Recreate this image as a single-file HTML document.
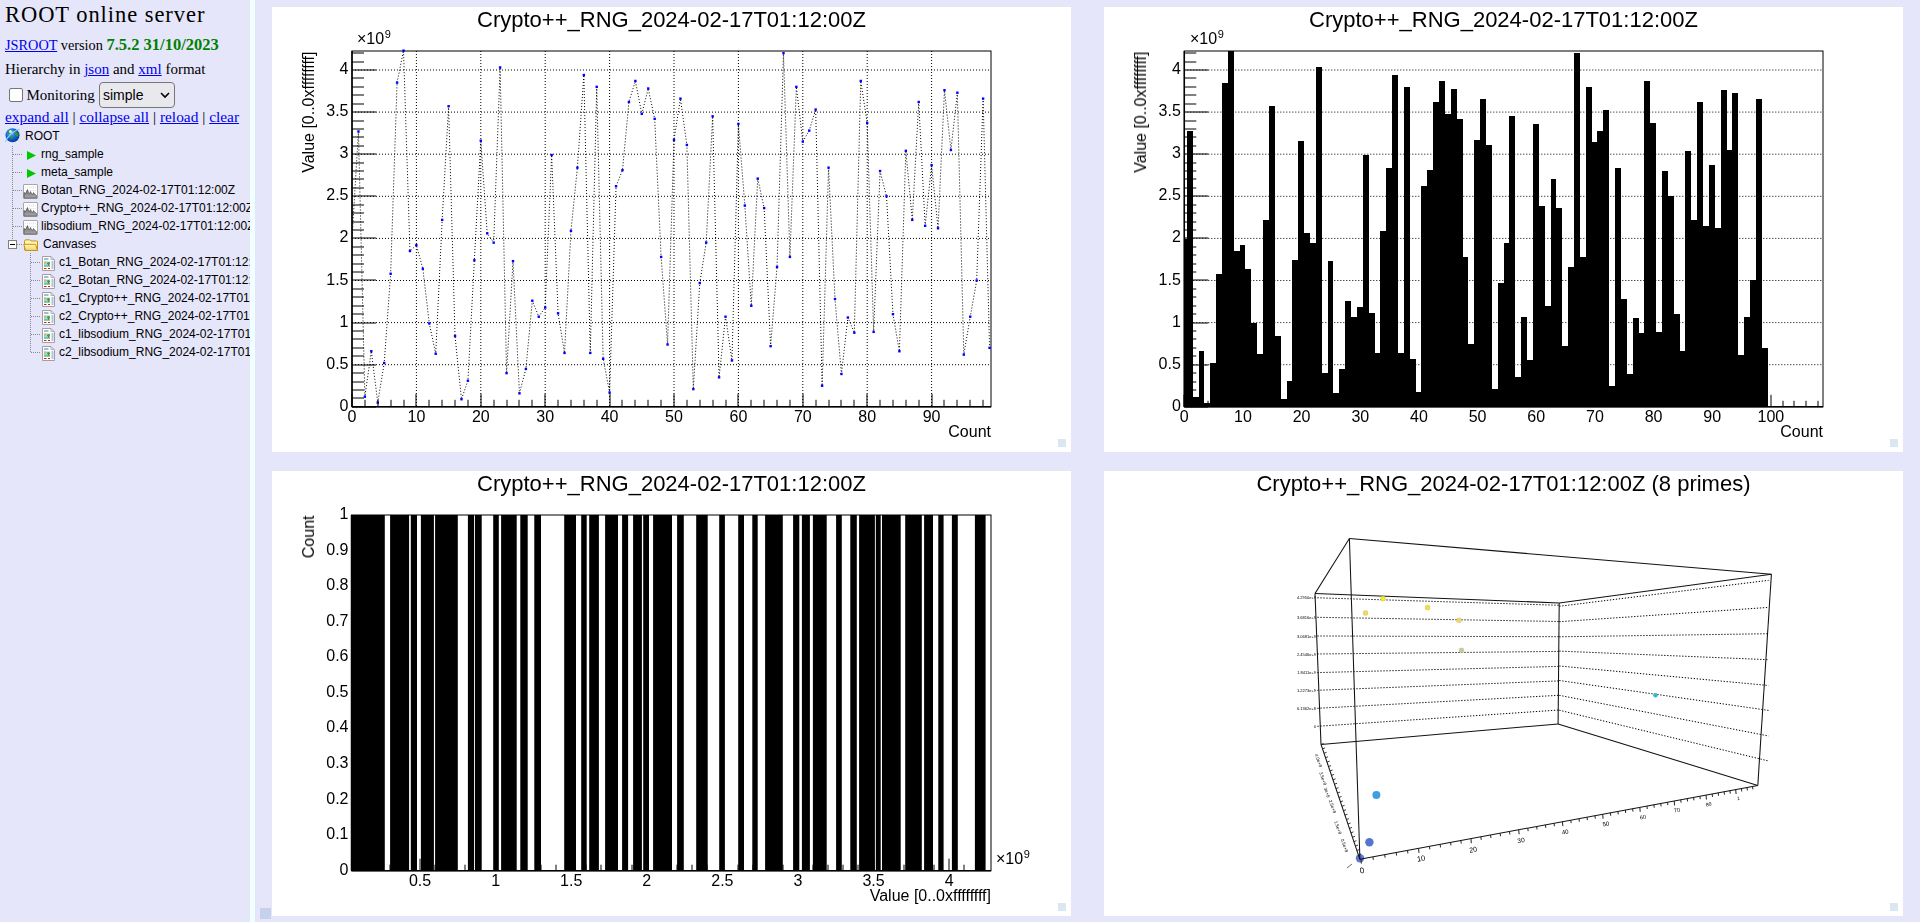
<!DOCTYPE html>
<html><head><meta charset="utf-8"><title>ROOT online server</title>
<style>
html,body{margin:0;padding:0;width:1920px;height:922px;overflow:hidden;background:#e6e6fa;}
#side{position:absolute;left:0;top:0;width:250px;height:922px;background:#e6e6fa;overflow:hidden;font-family:"Liberation Serif",serif;color:#000;}
#sep{position:absolute;left:250px;top:0;width:5px;height:922px;background:#f0ffff;}
#main{position:absolute;left:255px;top:0;width:1665px;height:922px;background:#e6e6fa;}
svg#cv{position:absolute;left:0;top:0;will-change:transform;}
svg#cv text{font-family:"Liberation Sans",sans-serif;fill:#000;}
.t{position:absolute;white-space:nowrap;}
a{color:#00e;text-decoration:underline;}
.tree{position:absolute;font-family:"Liberation Sans",sans-serif;font-size:12px;white-space:nowrap;}
</style></head><body>
<div id="side">
 <div class="t" style="left:5px;top:1.5px;font-size:22.5px;letter-spacing:0.95px;">ROOT online server</div>
 <div class="t" style="left:5px;top:34.5px;font-size:14.3px;"><a>JSROOT</a> version <b style="color:green;font-size:16.5px;">7.5.2 31/10/2023</b></div>
 <div class="t" style="left:5px;top:61px;font-size:15px;">Hierarchy in <a>json</a> and <a>xml</a> format</div>
 <div class="t" style="left:26.5px;top:87px;font-size:15px;">Monitoring</div>
 <div style="position:absolute;left:9px;top:88px;width:11.5px;height:11.5px;border:1.5px solid #767676;border-radius:2px;background:#fff;"></div>
 <div style="position:absolute;left:99px;top:82px;width:74px;height:23.5px;border:1px solid #767676;border-radius:4px;background:#e9e9ed;"></div>
 <div class="t" style="left:103px;top:86.5px;font-family:'Liberation Sans',sans-serif;font-size:14px;">simple</div>
 <svg style="position:absolute;left:158px;top:90px" width="14" height="10"><path d="M3 3 L7 7 L11 3" fill="none" stroke="#000" stroke-width="1.6"/></svg>
 <div class="t" style="left:5px;top:108px;font-size:15.4px;"><a>expand all</a> | <a>collapse all</a> | <a>reload</a> | <a>clear</a></div>
 <svg style="position:absolute;left:0;top:0" width="250" height="370">
<line x1="12.5" y1="146" x2="12.5" y2="240" stroke="#888" stroke-width="1" stroke-dasharray="1,1"/>
<line x1="13" y1="154.5" x2="23" y2="154.5" stroke="#888" stroke-width="1" stroke-dasharray="1,1"/>
<line x1="13" y1="172.5" x2="23" y2="172.5" stroke="#888" stroke-width="1" stroke-dasharray="1,1"/>
<line x1="13" y1="190.5" x2="23" y2="190.5" stroke="#888" stroke-width="1" stroke-dasharray="1,1"/>
<line x1="13" y1="208.5" x2="23" y2="208.5" stroke="#888" stroke-width="1" stroke-dasharray="1,1"/>
<line x1="13" y1="226.5" x2="23" y2="226.5" stroke="#888" stroke-width="1" stroke-dasharray="1,1"/>
<line x1="17" y1="244.5" x2="23" y2="244.5" stroke="#888" stroke-width="1" stroke-dasharray="1,1"/>
<line x1="30.5" y1="253" x2="30.5" y2="352" stroke="#888" stroke-width="1" stroke-dasharray="1,1"/>
<line x1="31" y1="262.5" x2="41" y2="262.5" stroke="#888" stroke-width="1" stroke-dasharray="1,1"/>
<line x1="31" y1="280.5" x2="41" y2="280.5" stroke="#888" stroke-width="1" stroke-dasharray="1,1"/>
<line x1="31" y1="298.5" x2="41" y2="298.5" stroke="#888" stroke-width="1" stroke-dasharray="1,1"/>
<line x1="31" y1="316.5" x2="41" y2="316.5" stroke="#888" stroke-width="1" stroke-dasharray="1,1"/>
<line x1="31" y1="334.5" x2="41" y2="334.5" stroke="#888" stroke-width="1" stroke-dasharray="1,1"/>
<line x1="31" y1="352.5" x2="41" y2="352.5" stroke="#888" stroke-width="1" stroke-dasharray="1,1"/>
<rect x="8.5" y="240.5" width="8" height="8" fill="#fff" stroke="#808080"/><path d="M10 244.5H15" stroke="#000" stroke-width="1"/>
</svg>
<svg style="position:absolute;left:4px;top:127px" width="17" height="17" viewBox="0 0 17 17">
<defs><radialGradient id="gg" cx="0.4" cy="0.35" r="0.75"><stop offset="0" stop-color="#5ab8ff"/><stop offset="0.55" stop-color="#1060d0"/><stop offset="1" stop-color="#0a2a78"/></radialGradient></defs>
<circle cx="8.5" cy="8.3" r="7" fill="url(#gg)"/>
<path d="M3.5 4.5 Q5.5 2.5 8 2.8 L7.5 5 Q6 6.5 4.5 6.5 Q3.5 6 3.5 4.5Z M10 3.5 Q13 4.5 14.5 7.5 L13.5 10 Q11.5 9 11 7 Q10 6 10 3.5Z M6.5 8 Q8.5 8 9 10 L8 12.5 Q6.5 11 6.5 8Z" fill="#2a9a30"/>
<circle cx="6.5" cy="4.5" r="1.6" fill="#fff" fill-opacity="0.8"/>
<path d="M1.5 15 Q3 10 9 5.5 Q13 2.5 16 2" fill="none" stroke="#8fd0ff" stroke-width="1.1"/></svg>
<div class="tree" style="left:25px;top:129px">ROOT</div>
<svg style="position:absolute;left:27px;top:151px" width="10" height="10"><path d="M0 0 L9 4.5 L0 9Z" fill="#00c800"/></svg>
<div class="tree" style="left:41px;top:147px">rng_sample</div>
<svg style="position:absolute;left:27px;top:169px" width="10" height="10"><path d="M0 0 L9 4.5 L0 9Z" fill="#00c800"/></svg>
<div class="tree" style="left:41px;top:165px">meta_sample</div>
<svg style="position:absolute;left:23px;top:184px" width="15" height="15" viewBox="0 0 15 15">
<defs><linearGradient id="hg" x1="0" y1="0" x2="0" y2="1"><stop offset="0" stop-color="#666"/><stop offset="1" stop-color="#aaa"/></linearGradient></defs>
<rect x="0.5" y="0.5" width="14" height="14" rx="0.5" fill="#fff" stroke="#a8a8a8"/>
<path d="M2 3.5H13M2 6.5H13M7 2V8M10 2V8" stroke="#dde" stroke-width="0.8" stroke-dasharray="1,1"/>
<path d="M1 14V8.5L2.5 9.5L3.5 7.5L4.5 5.5L5.5 8.5L6.5 9.5L7.5 7.5L8.5 9.5L9.5 10.5L10.5 8.5L11.5 10L12.5 10.5L13.5 11.5V14Z" fill="url(#hg)" stroke="#444" stroke-width="0.6"/></svg>
<div class="tree" style="left:41px;top:183px">Botan_RNG_2024-02-17T01:12:00Z</div>
<svg style="position:absolute;left:23px;top:202px" width="15" height="15" viewBox="0 0 15 15">
<defs><linearGradient id="hg" x1="0" y1="0" x2="0" y2="1"><stop offset="0" stop-color="#666"/><stop offset="1" stop-color="#aaa"/></linearGradient></defs>
<rect x="0.5" y="0.5" width="14" height="14" rx="0.5" fill="#fff" stroke="#a8a8a8"/>
<path d="M2 3.5H13M2 6.5H13M7 2V8M10 2V8" stroke="#dde" stroke-width="0.8" stroke-dasharray="1,1"/>
<path d="M1 14V8.5L2.5 9.5L3.5 7.5L4.5 5.5L5.5 8.5L6.5 9.5L7.5 7.5L8.5 9.5L9.5 10.5L10.5 8.5L11.5 10L12.5 10.5L13.5 11.5V14Z" fill="url(#hg)" stroke="#444" stroke-width="0.6"/></svg>
<div class="tree" style="left:41px;top:201px">Crypto++_RNG_2024-02-17T01:12:00Z</div>
<svg style="position:absolute;left:23px;top:220px" width="15" height="15" viewBox="0 0 15 15">
<defs><linearGradient id="hg" x1="0" y1="0" x2="0" y2="1"><stop offset="0" stop-color="#666"/><stop offset="1" stop-color="#aaa"/></linearGradient></defs>
<rect x="0.5" y="0.5" width="14" height="14" rx="0.5" fill="#fff" stroke="#a8a8a8"/>
<path d="M2 3.5H13M2 6.5H13M7 2V8M10 2V8" stroke="#dde" stroke-width="0.8" stroke-dasharray="1,1"/>
<path d="M1 14V8.5L2.5 9.5L3.5 7.5L4.5 5.5L5.5 8.5L6.5 9.5L7.5 7.5L8.5 9.5L9.5 10.5L10.5 8.5L11.5 10L12.5 10.5L13.5 11.5V14Z" fill="url(#hg)" stroke="#444" stroke-width="0.6"/></svg>
<div class="tree" style="left:41px;top:219px">libsodium_RNG_2024-02-17T01:12:00Z</div>
<svg style="position:absolute;left:23px;top:238.5px" width="16" height="13" viewBox="0 0 16 13">
<defs><linearGradient id="fg" x1="0" y1="0" x2="0" y2="1"><stop offset="0" stop-color="#fffac0"/><stop offset="1" stop-color="#f0d060"/></linearGradient></defs>
<path d="M1.5 10 V2.5 Q1.5 0.8 3 0.8 H6.5 Q7.5 0.8 8 2 H14 Q14.5 2 14.5 2.5 V11.5 H2Z" fill="#fff4b0" stroke="#c89018" stroke-width="1"/>
<path d="M0.8 5.3 H12.5 L14.5 11.5 H2.5Z" fill="url(#fg)" stroke="#c89018" stroke-width="1"/></svg>
<div class="tree" style="left:43px;top:237px">Canvases</div>
<svg style="position:absolute;left:42px;top:256px" width="13" height="15" viewBox="0 0 13 15">
<path d="M0.5 0.5 H9 L12.5 4 V14.5 H0.5Z" fill="#fff" stroke="#a0a0a0" stroke-width="1"/>
<path d="M9 0.5 V3.5 H12" fill="none" stroke="#a0a0a0" stroke-width="0.8"/>
<path d="M2 3H6.5" stroke="#4a78b0" stroke-width="1"/>
<rect x="2" y="5.5" width="6" height="5" fill="#8fd8f8"/><rect x="2" y="5.5" width="2" height="2" fill="#f8b020"/>
<circle cx="6.5" cy="7.3" r="1.4" fill="#50a030"/><rect x="6.2" y="8" width="0.7" height="2" fill="#805020"/><rect x="2" y="9.5" width="6" height="1" fill="#60b030"/>
<path d="M9.5 6H11.5M9.5 8H11.5M9.5 10H11.5M9.5 12H11.5" stroke="#4a78b0" stroke-width="0.9"/>
<path d="M2 12.5H4.5M6 12.5H8" stroke="#e01818" stroke-width="1.1"/></svg>
<div class="tree" style="left:59px;top:255px">c1_Botan_RNG_2024-02-17T01:12:00Z</div>
<svg style="position:absolute;left:42px;top:274px" width="13" height="15" viewBox="0 0 13 15">
<path d="M0.5 0.5 H9 L12.5 4 V14.5 H0.5Z" fill="#fff" stroke="#a0a0a0" stroke-width="1"/>
<path d="M9 0.5 V3.5 H12" fill="none" stroke="#a0a0a0" stroke-width="0.8"/>
<path d="M2 3H6.5" stroke="#4a78b0" stroke-width="1"/>
<rect x="2" y="5.5" width="6" height="5" fill="#8fd8f8"/><rect x="2" y="5.5" width="2" height="2" fill="#f8b020"/>
<circle cx="6.5" cy="7.3" r="1.4" fill="#50a030"/><rect x="6.2" y="8" width="0.7" height="2" fill="#805020"/><rect x="2" y="9.5" width="6" height="1" fill="#60b030"/>
<path d="M9.5 6H11.5M9.5 8H11.5M9.5 10H11.5M9.5 12H11.5" stroke="#4a78b0" stroke-width="0.9"/>
<path d="M2 12.5H4.5M6 12.5H8" stroke="#e01818" stroke-width="1.1"/></svg>
<div class="tree" style="left:59px;top:273px">c2_Botan_RNG_2024-02-17T01:12:00Z</div>
<svg style="position:absolute;left:42px;top:292px" width="13" height="15" viewBox="0 0 13 15">
<path d="M0.5 0.5 H9 L12.5 4 V14.5 H0.5Z" fill="#fff" stroke="#a0a0a0" stroke-width="1"/>
<path d="M9 0.5 V3.5 H12" fill="none" stroke="#a0a0a0" stroke-width="0.8"/>
<path d="M2 3H6.5" stroke="#4a78b0" stroke-width="1"/>
<rect x="2" y="5.5" width="6" height="5" fill="#8fd8f8"/><rect x="2" y="5.5" width="2" height="2" fill="#f8b020"/>
<circle cx="6.5" cy="7.3" r="1.4" fill="#50a030"/><rect x="6.2" y="8" width="0.7" height="2" fill="#805020"/><rect x="2" y="9.5" width="6" height="1" fill="#60b030"/>
<path d="M9.5 6H11.5M9.5 8H11.5M9.5 10H11.5M9.5 12H11.5" stroke="#4a78b0" stroke-width="0.9"/>
<path d="M2 12.5H4.5M6 12.5H8" stroke="#e01818" stroke-width="1.1"/></svg>
<div class="tree" style="left:59px;top:291px">c1_Crypto++_RNG_2024-02-17T01:12:00Z</div>
<svg style="position:absolute;left:42px;top:310px" width="13" height="15" viewBox="0 0 13 15">
<path d="M0.5 0.5 H9 L12.5 4 V14.5 H0.5Z" fill="#fff" stroke="#a0a0a0" stroke-width="1"/>
<path d="M9 0.5 V3.5 H12" fill="none" stroke="#a0a0a0" stroke-width="0.8"/>
<path d="M2 3H6.5" stroke="#4a78b0" stroke-width="1"/>
<rect x="2" y="5.5" width="6" height="5" fill="#8fd8f8"/><rect x="2" y="5.5" width="2" height="2" fill="#f8b020"/>
<circle cx="6.5" cy="7.3" r="1.4" fill="#50a030"/><rect x="6.2" y="8" width="0.7" height="2" fill="#805020"/><rect x="2" y="9.5" width="6" height="1" fill="#60b030"/>
<path d="M9.5 6H11.5M9.5 8H11.5M9.5 10H11.5M9.5 12H11.5" stroke="#4a78b0" stroke-width="0.9"/>
<path d="M2 12.5H4.5M6 12.5H8" stroke="#e01818" stroke-width="1.1"/></svg>
<div class="tree" style="left:59px;top:309px">c2_Crypto++_RNG_2024-02-17T01:12:00Z</div>
<svg style="position:absolute;left:42px;top:328px" width="13" height="15" viewBox="0 0 13 15">
<path d="M0.5 0.5 H9 L12.5 4 V14.5 H0.5Z" fill="#fff" stroke="#a0a0a0" stroke-width="1"/>
<path d="M9 0.5 V3.5 H12" fill="none" stroke="#a0a0a0" stroke-width="0.8"/>
<path d="M2 3H6.5" stroke="#4a78b0" stroke-width="1"/>
<rect x="2" y="5.5" width="6" height="5" fill="#8fd8f8"/><rect x="2" y="5.5" width="2" height="2" fill="#f8b020"/>
<circle cx="6.5" cy="7.3" r="1.4" fill="#50a030"/><rect x="6.2" y="8" width="0.7" height="2" fill="#805020"/><rect x="2" y="9.5" width="6" height="1" fill="#60b030"/>
<path d="M9.5 6H11.5M9.5 8H11.5M9.5 10H11.5M9.5 12H11.5" stroke="#4a78b0" stroke-width="0.9"/>
<path d="M2 12.5H4.5M6 12.5H8" stroke="#e01818" stroke-width="1.1"/></svg>
<div class="tree" style="left:59px;top:327px">c1_libsodium_RNG_2024-02-17T01:12:00Z</div>
<svg style="position:absolute;left:42px;top:346px" width="13" height="15" viewBox="0 0 13 15">
<path d="M0.5 0.5 H9 L12.5 4 V14.5 H0.5Z" fill="#fff" stroke="#a0a0a0" stroke-width="1"/>
<path d="M9 0.5 V3.5 H12" fill="none" stroke="#a0a0a0" stroke-width="0.8"/>
<path d="M2 3H6.5" stroke="#4a78b0" stroke-width="1"/>
<rect x="2" y="5.5" width="6" height="5" fill="#8fd8f8"/><rect x="2" y="5.5" width="2" height="2" fill="#f8b020"/>
<circle cx="6.5" cy="7.3" r="1.4" fill="#50a030"/><rect x="6.2" y="8" width="0.7" height="2" fill="#805020"/><rect x="2" y="9.5" width="6" height="1" fill="#60b030"/>
<path d="M9.5 6H11.5M9.5 8H11.5M9.5 10H11.5M9.5 12H11.5" stroke="#4a78b0" stroke-width="0.9"/>
<path d="M2 12.5H4.5M6 12.5H8" stroke="#e01818" stroke-width="1.1"/></svg>
<div class="tree" style="left:59px;top:345px">c2_libsodium_RNG_2024-02-17T01:12:00Z</div>
</div>
<div id="sep"></div>
<div id="main"></div>
<div style="position:absolute;left:260px;top:908px;width:11px;height:11px;background:steelblue;opacity:0.2"></div>
<svg id="cv" width="1920" height="922" viewBox="0 0 1920 922">
<rect x="272" y="7" width="799" height="445" fill="#fff"/>
<rect x="1058" y="439" width="8" height="8" fill="steelblue" fill-opacity="0.2"/>
<text x="671.5" y="27" font-size="22" text-anchor="middle" >Crypto++_RNG_2024-02-17T01:12:00Z</text>
<line x1="416.4" y1="51" x2="416.4" y2="406.8" stroke="#000" stroke-width="1" stroke="#000" stroke-width="1" stroke-dasharray="1,2"/>
<line x1="480.8" y1="51" x2="480.8" y2="406.8" stroke="#000" stroke-width="1" stroke="#000" stroke-width="1" stroke-dasharray="1,2"/>
<line x1="545.2" y1="51" x2="545.2" y2="406.8" stroke="#000" stroke-width="1" stroke="#000" stroke-width="1" stroke-dasharray="1,2"/>
<line x1="609.6" y1="51" x2="609.6" y2="406.8" stroke="#000" stroke-width="1" stroke="#000" stroke-width="1" stroke-dasharray="1,2"/>
<line x1="674" y1="51" x2="674" y2="406.8" stroke="#000" stroke-width="1" stroke="#000" stroke-width="1" stroke-dasharray="1,2"/>
<line x1="738.4" y1="51" x2="738.4" y2="406.8" stroke="#000" stroke-width="1" stroke="#000" stroke-width="1" stroke-dasharray="1,2"/>
<line x1="802.8" y1="51" x2="802.8" y2="406.8" stroke="#000" stroke-width="1" stroke="#000" stroke-width="1" stroke-dasharray="1,2"/>
<line x1="867.2" y1="51" x2="867.2" y2="406.8" stroke="#000" stroke-width="1" stroke="#000" stroke-width="1" stroke-dasharray="1,2"/>
<line x1="931.6" y1="51" x2="931.6" y2="406.8" stroke="#000" stroke-width="1" stroke="#000" stroke-width="1" stroke-dasharray="1,2"/>
<line x1="352" y1="364.7" x2="991" y2="364.7" stroke="#000" stroke-width="1" stroke="#000" stroke-width="1" stroke-dasharray="1,2"/>
<line x1="352" y1="322.6" x2="991" y2="322.6" stroke="#000" stroke-width="1" stroke="#000" stroke-width="1" stroke-dasharray="1,2"/>
<line x1="352" y1="280.5" x2="991" y2="280.5" stroke="#000" stroke-width="1" stroke="#000" stroke-width="1" stroke-dasharray="1,2"/>
<line x1="352" y1="238.4" x2="991" y2="238.4" stroke="#000" stroke-width="1" stroke="#000" stroke-width="1" stroke-dasharray="1,2"/>
<line x1="352" y1="196.3" x2="991" y2="196.3" stroke="#000" stroke-width="1" stroke="#000" stroke-width="1" stroke-dasharray="1,2"/>
<line x1="352" y1="154.2" x2="991" y2="154.2" stroke="#000" stroke-width="1" stroke="#000" stroke-width="1" stroke-dasharray="1,2"/>
<line x1="352" y1="112.1" x2="991" y2="112.1" stroke="#000" stroke-width="1" stroke="#000" stroke-width="1" stroke-dasharray="1,2"/>
<line x1="352" y1="70" x2="991" y2="70" stroke="#000" stroke-width="1" stroke="#000" stroke-width="1" stroke-dasharray="1,2"/>
<rect x="352" y="51" width="639" height="355.8" fill="none" stroke="#000" stroke-width="1"/>
<clipPath id="c1"><rect x="352" y="51" width="639" height="355.8"/></clipPath>
<polyline clip-path="url(#c1)" points="352,239.24 358.44,131.47 364.88,396.7 371.32,351.23 377.76,402.59 384.2,363.02 390.64,273.76 397.08,82.63 403.52,50.63 409.96,251.03 416.4,245.14 422.84,268.71 429.28,323.44 435.72,353.75 442.16,219.88 448.6,106.21 455.04,336.07 461.48,399.22 467.92,380.7 474.36,260.29 480.8,140.73 487.24,233.35 493.68,242.61 500.12,67.47 506.56,373.12 513,261.13 519.44,393.33 525.88,368.91 532.32,300.71 538.76,316.71 545.2,307.44 551.64,155.04 558.08,313.34 564.52,352.91 570.96,230.82 577.4,167.67 583.84,75.05 590.28,352.91 596.72,86.84 603.16,358.81 609.6,392.49 616.04,186.2 622.48,170.2 628.92,102 635.36,80.95 641.8,113.78 648.24,88.52 654.68,118.84 661.12,256.92 667.56,344.49 674,139.89 680.44,98.63 686.88,144.94 693.32,389.12 699.76,283.03 706.2,242.61 712.64,116.31 719.08,377.33 725.52,316.71 731.96,360.49 738.4,123.89 744.84,205.56 751.28,305.76 757.72,178.62 764.16,208.09 770.6,346.18 777.04,267.03 783.48,53.16 789.92,256.92 796.36,86.84 802.8,141.57 809.24,130.62 815.68,109.57 822.12,385.75 828.56,167.67 835,299.02 841.44,373.96 847.88,317.55 854.32,332.7 860.76,80.95 867.2,123.05 873.64,331.86 880.08,171.04 886.52,196.3 892.96,314.18 899.4,351.23 905.84,150.83 912.28,219.88 918.72,102 925.16,225.77 931.6,165.15 938.04,228.3 944.48,90.21 950.92,149.99 957.36,92.73 963.8,354.6 970.24,316.71 976.68,280.5 983.12,98.63 989.56,347.86" fill="none" stroke="#000" stroke-width="1" stroke-dasharray="1,2"/>
<rect x="357.24" y="130.27" width="2.4" height="2.4" fill="#00f"/>
<rect x="363.68" y="395.5" width="2.4" height="2.4" fill="#00f"/>
<rect x="370.12" y="350.03" width="2.4" height="2.4" fill="#00f"/>
<rect x="376.56" y="401.39" width="2.4" height="2.4" fill="#00f"/>
<rect x="383" y="361.82" width="2.4" height="2.4" fill="#00f"/>
<rect x="389.44" y="272.56" width="2.4" height="2.4" fill="#00f"/>
<rect x="395.88" y="81.43" width="2.4" height="2.4" fill="#00f"/>
<rect x="402.32" y="49.43" width="2.4" height="2.4" fill="#00f"/>
<rect x="408.76" y="249.83" width="2.4" height="2.4" fill="#00f"/>
<rect x="415.2" y="243.94" width="2.4" height="2.4" fill="#00f"/>
<rect x="421.64" y="267.51" width="2.4" height="2.4" fill="#00f"/>
<rect x="428.08" y="322.24" width="2.4" height="2.4" fill="#00f"/>
<rect x="434.52" y="352.55" width="2.4" height="2.4" fill="#00f"/>
<rect x="440.96" y="218.68" width="2.4" height="2.4" fill="#00f"/>
<rect x="447.4" y="105.01" width="2.4" height="2.4" fill="#00f"/>
<rect x="453.84" y="334.87" width="2.4" height="2.4" fill="#00f"/>
<rect x="460.28" y="398.02" width="2.4" height="2.4" fill="#00f"/>
<rect x="466.72" y="379.5" width="2.4" height="2.4" fill="#00f"/>
<rect x="473.16" y="259.09" width="2.4" height="2.4" fill="#00f"/>
<rect x="479.6" y="139.53" width="2.4" height="2.4" fill="#00f"/>
<rect x="486.04" y="232.15" width="2.4" height="2.4" fill="#00f"/>
<rect x="492.48" y="241.41" width="2.4" height="2.4" fill="#00f"/>
<rect x="498.92" y="66.27" width="2.4" height="2.4" fill="#00f"/>
<rect x="505.36" y="371.92" width="2.4" height="2.4" fill="#00f"/>
<rect x="511.8" y="259.93" width="2.4" height="2.4" fill="#00f"/>
<rect x="518.24" y="392.13" width="2.4" height="2.4" fill="#00f"/>
<rect x="524.68" y="367.71" width="2.4" height="2.4" fill="#00f"/>
<rect x="531.12" y="299.51" width="2.4" height="2.4" fill="#00f"/>
<rect x="537.56" y="315.51" width="2.4" height="2.4" fill="#00f"/>
<rect x="544" y="306.24" width="2.4" height="2.4" fill="#00f"/>
<rect x="550.44" y="153.84" width="2.4" height="2.4" fill="#00f"/>
<rect x="556.88" y="312.14" width="2.4" height="2.4" fill="#00f"/>
<rect x="563.32" y="351.71" width="2.4" height="2.4" fill="#00f"/>
<rect x="569.76" y="229.62" width="2.4" height="2.4" fill="#00f"/>
<rect x="576.2" y="166.47" width="2.4" height="2.4" fill="#00f"/>
<rect x="582.64" y="73.85" width="2.4" height="2.4" fill="#00f"/>
<rect x="589.08" y="351.71" width="2.4" height="2.4" fill="#00f"/>
<rect x="595.52" y="85.64" width="2.4" height="2.4" fill="#00f"/>
<rect x="601.96" y="357.61" width="2.4" height="2.4" fill="#00f"/>
<rect x="608.4" y="391.29" width="2.4" height="2.4" fill="#00f"/>
<rect x="614.84" y="185" width="2.4" height="2.4" fill="#00f"/>
<rect x="621.28" y="169" width="2.4" height="2.4" fill="#00f"/>
<rect x="627.72" y="100.8" width="2.4" height="2.4" fill="#00f"/>
<rect x="634.16" y="79.75" width="2.4" height="2.4" fill="#00f"/>
<rect x="640.6" y="112.58" width="2.4" height="2.4" fill="#00f"/>
<rect x="647.04" y="87.32" width="2.4" height="2.4" fill="#00f"/>
<rect x="653.48" y="117.64" width="2.4" height="2.4" fill="#00f"/>
<rect x="659.92" y="255.72" width="2.4" height="2.4" fill="#00f"/>
<rect x="666.36" y="343.29" width="2.4" height="2.4" fill="#00f"/>
<rect x="672.8" y="138.69" width="2.4" height="2.4" fill="#00f"/>
<rect x="679.24" y="97.43" width="2.4" height="2.4" fill="#00f"/>
<rect x="685.68" y="143.74" width="2.4" height="2.4" fill="#00f"/>
<rect x="692.12" y="387.92" width="2.4" height="2.4" fill="#00f"/>
<rect x="698.56" y="281.83" width="2.4" height="2.4" fill="#00f"/>
<rect x="705" y="241.41" width="2.4" height="2.4" fill="#00f"/>
<rect x="711.44" y="115.11" width="2.4" height="2.4" fill="#00f"/>
<rect x="717.88" y="376.13" width="2.4" height="2.4" fill="#00f"/>
<rect x="724.32" y="315.51" width="2.4" height="2.4" fill="#00f"/>
<rect x="730.76" y="359.29" width="2.4" height="2.4" fill="#00f"/>
<rect x="737.2" y="122.69" width="2.4" height="2.4" fill="#00f"/>
<rect x="743.64" y="204.36" width="2.4" height="2.4" fill="#00f"/>
<rect x="750.08" y="304.56" width="2.4" height="2.4" fill="#00f"/>
<rect x="756.52" y="177.42" width="2.4" height="2.4" fill="#00f"/>
<rect x="762.96" y="206.89" width="2.4" height="2.4" fill="#00f"/>
<rect x="769.4" y="344.98" width="2.4" height="2.4" fill="#00f"/>
<rect x="775.84" y="265.83" width="2.4" height="2.4" fill="#00f"/>
<rect x="782.28" y="51.96" width="2.4" height="2.4" fill="#00f"/>
<rect x="788.72" y="255.72" width="2.4" height="2.4" fill="#00f"/>
<rect x="795.16" y="85.64" width="2.4" height="2.4" fill="#00f"/>
<rect x="801.6" y="140.37" width="2.4" height="2.4" fill="#00f"/>
<rect x="808.04" y="129.42" width="2.4" height="2.4" fill="#00f"/>
<rect x="814.48" y="108.37" width="2.4" height="2.4" fill="#00f"/>
<rect x="820.92" y="384.55" width="2.4" height="2.4" fill="#00f"/>
<rect x="827.36" y="166.47" width="2.4" height="2.4" fill="#00f"/>
<rect x="833.8" y="297.82" width="2.4" height="2.4" fill="#00f"/>
<rect x="840.24" y="372.76" width="2.4" height="2.4" fill="#00f"/>
<rect x="846.68" y="316.35" width="2.4" height="2.4" fill="#00f"/>
<rect x="853.12" y="331.5" width="2.4" height="2.4" fill="#00f"/>
<rect x="859.56" y="79.75" width="2.4" height="2.4" fill="#00f"/>
<rect x="866" y="121.85" width="2.4" height="2.4" fill="#00f"/>
<rect x="872.44" y="330.66" width="2.4" height="2.4" fill="#00f"/>
<rect x="878.88" y="169.84" width="2.4" height="2.4" fill="#00f"/>
<rect x="885.32" y="195.1" width="2.4" height="2.4" fill="#00f"/>
<rect x="891.76" y="312.98" width="2.4" height="2.4" fill="#00f"/>
<rect x="898.2" y="350.03" width="2.4" height="2.4" fill="#00f"/>
<rect x="904.64" y="149.63" width="2.4" height="2.4" fill="#00f"/>
<rect x="911.08" y="218.68" width="2.4" height="2.4" fill="#00f"/>
<rect x="917.52" y="100.8" width="2.4" height="2.4" fill="#00f"/>
<rect x="923.96" y="224.57" width="2.4" height="2.4" fill="#00f"/>
<rect x="930.4" y="163.95" width="2.4" height="2.4" fill="#00f"/>
<rect x="936.84" y="227.1" width="2.4" height="2.4" fill="#00f"/>
<rect x="943.28" y="89.01" width="2.4" height="2.4" fill="#00f"/>
<rect x="949.72" y="148.79" width="2.4" height="2.4" fill="#00f"/>
<rect x="956.16" y="91.53" width="2.4" height="2.4" fill="#00f"/>
<rect x="962.6" y="353.4" width="2.4" height="2.4" fill="#00f"/>
<rect x="969.04" y="315.51" width="2.4" height="2.4" fill="#00f"/>
<rect x="975.48" y="279.3" width="2.4" height="2.4" fill="#00f"/>
<rect x="981.92" y="97.43" width="2.4" height="2.4" fill="#00f"/>
<rect x="988.36" y="346.66" width="2.4" height="2.4" fill="#00f"/>
<line x1="352" y1="51" x2="352" y2="406.8" stroke="#000" stroke-width="1.5" />
<line x1="352" y1="407" x2="376" y2="407" stroke="#000" stroke-width="1" />
<text x="348.5" y="410.8" font-size="16" text-anchor="end" >0</text>
<line x1="352" y1="398" x2="364" y2="398" stroke="#000" stroke-width="1" />
<line x1="352" y1="390" x2="364" y2="390" stroke="#000" stroke-width="1" />
<line x1="352" y1="382" x2="364" y2="382" stroke="#000" stroke-width="1" />
<line x1="352" y1="373" x2="364" y2="373" stroke="#000" stroke-width="1" />
<line x1="352" y1="365" x2="376" y2="365" stroke="#000" stroke-width="1" />
<text x="348.5" y="368.7" font-size="16" text-anchor="end" >0.5</text>
<line x1="352" y1="356" x2="364" y2="356" stroke="#000" stroke-width="1" />
<line x1="352" y1="348" x2="364" y2="348" stroke="#000" stroke-width="1" />
<line x1="352" y1="339" x2="364" y2="339" stroke="#000" stroke-width="1" />
<line x1="352" y1="331" x2="364" y2="331" stroke="#000" stroke-width="1" />
<line x1="352" y1="323" x2="376" y2="323" stroke="#000" stroke-width="1" />
<text x="348.5" y="326.6" font-size="16" text-anchor="end" >1</text>
<line x1="352" y1="314" x2="364" y2="314" stroke="#000" stroke-width="1" />
<line x1="352" y1="306" x2="364" y2="306" stroke="#000" stroke-width="1" />
<line x1="352" y1="297" x2="364" y2="297" stroke="#000" stroke-width="1" />
<line x1="352" y1="289" x2="364" y2="289" stroke="#000" stroke-width="1" />
<line x1="352" y1="280" x2="376" y2="280" stroke="#000" stroke-width="1" />
<text x="348.5" y="284.5" font-size="16" text-anchor="end" >1.5</text>
<line x1="352" y1="272" x2="364" y2="272" stroke="#000" stroke-width="1" />
<line x1="352" y1="264" x2="364" y2="264" stroke="#000" stroke-width="1" />
<line x1="352" y1="255" x2="364" y2="255" stroke="#000" stroke-width="1" />
<line x1="352" y1="247" x2="364" y2="247" stroke="#000" stroke-width="1" />
<line x1="352" y1="238" x2="376" y2="238" stroke="#000" stroke-width="1" />
<text x="348.5" y="242.4" font-size="16" text-anchor="end" >2</text>
<line x1="352" y1="230" x2="364" y2="230" stroke="#000" stroke-width="1" />
<line x1="352" y1="222" x2="364" y2="222" stroke="#000" stroke-width="1" />
<line x1="352" y1="213" x2="364" y2="213" stroke="#000" stroke-width="1" />
<line x1="352" y1="205" x2="364" y2="205" stroke="#000" stroke-width="1" />
<line x1="352" y1="196" x2="376" y2="196" stroke="#000" stroke-width="1" />
<text x="348.5" y="200.3" font-size="16" text-anchor="end" >2.5</text>
<line x1="352" y1="188" x2="364" y2="188" stroke="#000" stroke-width="1" />
<line x1="352" y1="179" x2="364" y2="179" stroke="#000" stroke-width="1" />
<line x1="352" y1="171" x2="364" y2="171" stroke="#000" stroke-width="1" />
<line x1="352" y1="163" x2="364" y2="163" stroke="#000" stroke-width="1" />
<line x1="352" y1="154" x2="376" y2="154" stroke="#000" stroke-width="1" />
<text x="348.5" y="158.2" font-size="16" text-anchor="end" >3</text>
<line x1="352" y1="146" x2="364" y2="146" stroke="#000" stroke-width="1" />
<line x1="352" y1="137" x2="364" y2="137" stroke="#000" stroke-width="1" />
<line x1="352" y1="129" x2="364" y2="129" stroke="#000" stroke-width="1" />
<line x1="352" y1="121" x2="364" y2="121" stroke="#000" stroke-width="1" />
<line x1="352" y1="112" x2="376" y2="112" stroke="#000" stroke-width="1" />
<text x="348.5" y="116.1" font-size="16" text-anchor="end" >3.5</text>
<line x1="352" y1="104" x2="364" y2="104" stroke="#000" stroke-width="1" />
<line x1="352" y1="95" x2="364" y2="95" stroke="#000" stroke-width="1" />
<line x1="352" y1="87" x2="364" y2="87" stroke="#000" stroke-width="1" />
<line x1="352" y1="78" x2="364" y2="78" stroke="#000" stroke-width="1" />
<line x1="352" y1="70" x2="376" y2="70" stroke="#000" stroke-width="1" />
<text x="348.5" y="74" font-size="16" text-anchor="end" >4</text>
<line x1="352" y1="62" x2="364" y2="62" stroke="#000" stroke-width="1" />
<line x1="352" y1="53" x2="364" y2="53" stroke="#000" stroke-width="1" />
<line x1="352" y1="406.8" x2="991" y2="406.8" stroke="#000" stroke-width="1.5" />
<line x1="352" y1="406.8" x2="352" y2="393.8" stroke="#000" stroke-width="1" />
<text x="352" y="422.3" font-size="16" text-anchor="middle" >0</text>
<line x1="365" y1="406.8" x2="365" y2="399.8" stroke="#000" stroke-width="1" />
<line x1="378" y1="406.8" x2="378" y2="399.8" stroke="#000" stroke-width="1" />
<line x1="391" y1="406.8" x2="391" y2="399.8" stroke="#000" stroke-width="1" />
<line x1="404" y1="406.8" x2="404" y2="399.8" stroke="#000" stroke-width="1" />
<line x1="416" y1="406.8" x2="416" y2="393.8" stroke="#000" stroke-width="1" />
<text x="416.4" y="422.3" font-size="16" text-anchor="middle" >10</text>
<line x1="429" y1="406.8" x2="429" y2="399.8" stroke="#000" stroke-width="1" />
<line x1="442" y1="406.8" x2="442" y2="399.8" stroke="#000" stroke-width="1" />
<line x1="455" y1="406.8" x2="455" y2="399.8" stroke="#000" stroke-width="1" />
<line x1="468" y1="406.8" x2="468" y2="399.8" stroke="#000" stroke-width="1" />
<line x1="481" y1="406.8" x2="481" y2="393.8" stroke="#000" stroke-width="1" />
<text x="480.8" y="422.3" font-size="16" text-anchor="middle" >20</text>
<line x1="494" y1="406.8" x2="494" y2="399.8" stroke="#000" stroke-width="1" />
<line x1="507" y1="406.8" x2="507" y2="399.8" stroke="#000" stroke-width="1" />
<line x1="519" y1="406.8" x2="519" y2="399.8" stroke="#000" stroke-width="1" />
<line x1="532" y1="406.8" x2="532" y2="399.8" stroke="#000" stroke-width="1" />
<line x1="545" y1="406.8" x2="545" y2="393.8" stroke="#000" stroke-width="1" />
<text x="545.2" y="422.3" font-size="16" text-anchor="middle" >30</text>
<line x1="558" y1="406.8" x2="558" y2="399.8" stroke="#000" stroke-width="1" />
<line x1="571" y1="406.8" x2="571" y2="399.8" stroke="#000" stroke-width="1" />
<line x1="584" y1="406.8" x2="584" y2="399.8" stroke="#000" stroke-width="1" />
<line x1="597" y1="406.8" x2="597" y2="399.8" stroke="#000" stroke-width="1" />
<line x1="610" y1="406.8" x2="610" y2="393.8" stroke="#000" stroke-width="1" />
<text x="609.6" y="422.3" font-size="16" text-anchor="middle" >40</text>
<line x1="622" y1="406.8" x2="622" y2="399.8" stroke="#000" stroke-width="1" />
<line x1="635" y1="406.8" x2="635" y2="399.8" stroke="#000" stroke-width="1" />
<line x1="648" y1="406.8" x2="648" y2="399.8" stroke="#000" stroke-width="1" />
<line x1="661" y1="406.8" x2="661" y2="399.8" stroke="#000" stroke-width="1" />
<line x1="674" y1="406.8" x2="674" y2="393.8" stroke="#000" stroke-width="1" />
<text x="674" y="422.3" font-size="16" text-anchor="middle" >50</text>
<line x1="687" y1="406.8" x2="687" y2="399.8" stroke="#000" stroke-width="1" />
<line x1="700" y1="406.8" x2="700" y2="399.8" stroke="#000" stroke-width="1" />
<line x1="713" y1="406.8" x2="713" y2="399.8" stroke="#000" stroke-width="1" />
<line x1="726" y1="406.8" x2="726" y2="399.8" stroke="#000" stroke-width="1" />
<line x1="738" y1="406.8" x2="738" y2="393.8" stroke="#000" stroke-width="1" />
<text x="738.4" y="422.3" font-size="16" text-anchor="middle" >60</text>
<line x1="751" y1="406.8" x2="751" y2="399.8" stroke="#000" stroke-width="1" />
<line x1="764" y1="406.8" x2="764" y2="399.8" stroke="#000" stroke-width="1" />
<line x1="777" y1="406.8" x2="777" y2="399.8" stroke="#000" stroke-width="1" />
<line x1="790" y1="406.8" x2="790" y2="399.8" stroke="#000" stroke-width="1" />
<line x1="803" y1="406.8" x2="803" y2="393.8" stroke="#000" stroke-width="1" />
<text x="802.8" y="422.3" font-size="16" text-anchor="middle" >70</text>
<line x1="816" y1="406.8" x2="816" y2="399.8" stroke="#000" stroke-width="1" />
<line x1="829" y1="406.8" x2="829" y2="399.8" stroke="#000" stroke-width="1" />
<line x1="841" y1="406.8" x2="841" y2="399.8" stroke="#000" stroke-width="1" />
<line x1="854" y1="406.8" x2="854" y2="399.8" stroke="#000" stroke-width="1" />
<line x1="867" y1="406.8" x2="867" y2="393.8" stroke="#000" stroke-width="1" />
<text x="867.2" y="422.3" font-size="16" text-anchor="middle" >80</text>
<line x1="880" y1="406.8" x2="880" y2="399.8" stroke="#000" stroke-width="1" />
<line x1="893" y1="406.8" x2="893" y2="399.8" stroke="#000" stroke-width="1" />
<line x1="906" y1="406.8" x2="906" y2="399.8" stroke="#000" stroke-width="1" />
<line x1="919" y1="406.8" x2="919" y2="399.8" stroke="#000" stroke-width="1" />
<line x1="932" y1="406.8" x2="932" y2="393.8" stroke="#000" stroke-width="1" />
<text x="931.6" y="422.3" font-size="16" text-anchor="middle" >90</text>
<line x1="944" y1="406.8" x2="944" y2="399.8" stroke="#000" stroke-width="1" />
<line x1="957" y1="406.8" x2="957" y2="399.8" stroke="#000" stroke-width="1" />
<line x1="970" y1="406.8" x2="970" y2="399.8" stroke="#000" stroke-width="1" />
<line x1="983" y1="406.8" x2="983" y2="399.8" stroke="#000" stroke-width="1" />
<text x="357" y="43.5" font-size="16">×10</text>
<text x="384.8" y="37.5" font-size="11">9</text>
<text x="991" y="437" font-size="16" text-anchor="end" >Count</text>
<text transform="translate(314,51.5) rotate(-90)" font-size="16" text-anchor="end">Value [0..0xffffffff]</text>
<rect x="1104" y="7" width="799" height="445" fill="#fff"/>
<rect x="1890" y="439" width="8" height="8" fill="steelblue" fill-opacity="0.2"/>
<text x="1503.5" y="27" font-size="22" text-anchor="middle" >Crypto++_RNG_2024-02-17T01:12:00Z</text>
<line x1="1184.3" y1="364.7" x2="1823" y2="364.7" stroke="#000" stroke-width="1" stroke="#000" stroke-width="1" stroke-dasharray="1,2"/>
<line x1="1184.3" y1="322.6" x2="1823" y2="322.6" stroke="#000" stroke-width="1" stroke="#000" stroke-width="1" stroke-dasharray="1,2"/>
<line x1="1184.3" y1="280.5" x2="1823" y2="280.5" stroke="#000" stroke-width="1" stroke="#000" stroke-width="1" stroke-dasharray="1,2"/>
<line x1="1184.3" y1="238.4" x2="1823" y2="238.4" stroke="#000" stroke-width="1" stroke="#000" stroke-width="1" stroke-dasharray="1,2"/>
<line x1="1184.3" y1="196.3" x2="1823" y2="196.3" stroke="#000" stroke-width="1" stroke="#000" stroke-width="1" stroke-dasharray="1,2"/>
<line x1="1184.3" y1="154.2" x2="1823" y2="154.2" stroke="#000" stroke-width="1" stroke="#000" stroke-width="1" stroke-dasharray="1,2"/>
<line x1="1184.3" y1="112.1" x2="1823" y2="112.1" stroke="#000" stroke-width="1" stroke="#000" stroke-width="1" stroke-dasharray="1,2"/>
<line x1="1184.3" y1="70" x2="1823" y2="70" stroke="#000" stroke-width="1" stroke="#000" stroke-width="1" stroke-dasharray="1,2"/>
<rect x="1184.3" y="51" width="638.7" height="355.8" fill="none" stroke="#000" stroke-width="1"/>
<path d="M1184.3 406.8V239H1187V406.8ZM1187 406.8V131H1193V406.8ZM1193 406.8V397H1199V406.8ZM1199 406.8V351H1204V406.8ZM1204 406.8V403H1210V406.8ZM1210 406.8V363H1216V406.8ZM1216 406.8V274H1222V406.8ZM1222 406.8V83H1228V406.8ZM1228 406.8V51H1234V406.8ZM1234 406.8V251H1240V406.8ZM1240 406.8V245H1245V406.8ZM1245 406.8V269H1251V406.8ZM1251 406.8V323H1257V406.8ZM1257 406.8V354H1263V406.8ZM1263 406.8V220H1269V406.8ZM1269 406.8V106H1275V406.8ZM1275 406.8V336H1281V406.8ZM1281 406.8V399H1287V406.8ZM1287 406.8V381H1292V406.8ZM1292 406.8V260H1298V406.8ZM1298 406.8V141H1304V406.8ZM1304 406.8V233H1310V406.8ZM1310 406.8V243H1316V406.8ZM1316 406.8V67H1322V406.8ZM1322 406.8V373H1328V406.8ZM1328 406.8V261H1333V406.8ZM1333 406.8V393H1339V406.8ZM1339 406.8V369H1345V406.8ZM1345 406.8V301H1351V406.8ZM1351 406.8V317H1357V406.8ZM1357 406.8V307H1363V406.8ZM1363 406.8V155H1369V406.8ZM1369 406.8V313H1375V406.8ZM1375 406.8V353H1380V406.8ZM1380 406.8V231H1386V406.8ZM1386 406.8V168H1392V406.8ZM1392 406.8V75H1398V406.8ZM1398 406.8V353H1404V406.8ZM1404 406.8V87H1410V406.8ZM1410 406.8V359H1416V406.8ZM1416 406.8V392H1421V406.8ZM1421 406.8V186H1427V406.8ZM1427 406.8V170H1433V406.8ZM1433 406.8V102H1439V406.8ZM1439 406.8V81H1445V406.8ZM1445 406.8V114H1451V406.8ZM1451 406.8V89H1457V406.8ZM1457 406.8V119H1463V406.8ZM1463 406.8V257H1468V406.8ZM1468 406.8V344H1474V406.8ZM1474 406.8V140H1480V406.8ZM1480 406.8V99H1486V406.8ZM1486 406.8V145H1492V406.8ZM1492 406.8V389H1498V406.8ZM1498 406.8V283H1504V406.8ZM1504 406.8V243H1509V406.8ZM1509 406.8V116H1515V406.8ZM1515 406.8V377H1521V406.8ZM1521 406.8V317H1527V406.8ZM1527 406.8V360H1533V406.8ZM1533 406.8V124H1539V406.8ZM1539 406.8V206H1545V406.8ZM1545 406.8V306H1551V406.8ZM1551 406.8V179H1556V406.8ZM1556 406.8V208H1562V406.8ZM1562 406.8V346H1568V406.8ZM1568 406.8V267H1574V406.8ZM1574 406.8V53H1580V406.8ZM1580 406.8V257H1586V406.8ZM1586 406.8V87H1592V406.8ZM1592 406.8V142H1597V406.8ZM1597 406.8V131H1603V406.8ZM1603 406.8V110H1609V406.8ZM1609 406.8V386H1615V406.8ZM1615 406.8V168H1621V406.8ZM1621 406.8V299H1627V406.8ZM1627 406.8V374H1633V406.8ZM1633 406.8V318H1639V406.8ZM1639 406.8V333H1644V406.8ZM1644 406.8V81H1650V406.8ZM1650 406.8V123H1656V406.8ZM1656 406.8V332H1662V406.8ZM1662 406.8V171H1668V406.8ZM1668 406.8V196H1674V406.8ZM1674 406.8V314H1680V406.8ZM1680 406.8V351H1685V406.8ZM1685 406.8V151H1691V406.8ZM1691 406.8V220H1697V406.8ZM1697 406.8V102H1703V406.8ZM1703 406.8V226H1709V406.8ZM1709 406.8V165H1715V406.8ZM1715 406.8V228H1721V406.8ZM1721 406.8V90H1727V406.8ZM1727 406.8V150H1732V406.8ZM1732 406.8V93H1738V406.8ZM1738 406.8V355H1744V406.8ZM1744 406.8V317H1750V406.8ZM1750 406.8V280H1756V406.8ZM1756 406.8V99H1762V406.8ZM1762 406.8V348H1768V406.8Z" fill="#000"/>
<line x1="1184.3" y1="51" x2="1184.3" y2="406.8" stroke="#000" stroke-width="1.5" />
<line x1="1184.3" y1="407" x2="1208.3" y2="407" stroke="#000" stroke-width="1" />
<text x="1180.8" y="410.8" font-size="16" text-anchor="end" >0</text>
<line x1="1184.3" y1="398" x2="1196.3" y2="398" stroke="#000" stroke-width="1" />
<line x1="1184.3" y1="390" x2="1196.3" y2="390" stroke="#000" stroke-width="1" />
<line x1="1184.3" y1="382" x2="1196.3" y2="382" stroke="#000" stroke-width="1" />
<line x1="1184.3" y1="373" x2="1196.3" y2="373" stroke="#000" stroke-width="1" />
<line x1="1184.3" y1="365" x2="1208.3" y2="365" stroke="#000" stroke-width="1" />
<text x="1180.8" y="368.7" font-size="16" text-anchor="end" >0.5</text>
<line x1="1184.3" y1="356" x2="1196.3" y2="356" stroke="#000" stroke-width="1" />
<line x1="1184.3" y1="348" x2="1196.3" y2="348" stroke="#000" stroke-width="1" />
<line x1="1184.3" y1="339" x2="1196.3" y2="339" stroke="#000" stroke-width="1" />
<line x1="1184.3" y1="331" x2="1196.3" y2="331" stroke="#000" stroke-width="1" />
<line x1="1184.3" y1="323" x2="1208.3" y2="323" stroke="#000" stroke-width="1" />
<text x="1180.8" y="326.6" font-size="16" text-anchor="end" >1</text>
<line x1="1184.3" y1="314" x2="1196.3" y2="314" stroke="#000" stroke-width="1" />
<line x1="1184.3" y1="306" x2="1196.3" y2="306" stroke="#000" stroke-width="1" />
<line x1="1184.3" y1="297" x2="1196.3" y2="297" stroke="#000" stroke-width="1" />
<line x1="1184.3" y1="289" x2="1196.3" y2="289" stroke="#000" stroke-width="1" />
<line x1="1184.3" y1="280" x2="1208.3" y2="280" stroke="#000" stroke-width="1" />
<text x="1180.8" y="284.5" font-size="16" text-anchor="end" >1.5</text>
<line x1="1184.3" y1="272" x2="1196.3" y2="272" stroke="#000" stroke-width="1" />
<line x1="1184.3" y1="264" x2="1196.3" y2="264" stroke="#000" stroke-width="1" />
<line x1="1184.3" y1="255" x2="1196.3" y2="255" stroke="#000" stroke-width="1" />
<line x1="1184.3" y1="247" x2="1196.3" y2="247" stroke="#000" stroke-width="1" />
<line x1="1184.3" y1="238" x2="1208.3" y2="238" stroke="#000" stroke-width="1" />
<text x="1180.8" y="242.4" font-size="16" text-anchor="end" >2</text>
<line x1="1184.3" y1="230" x2="1196.3" y2="230" stroke="#000" stroke-width="1" />
<line x1="1184.3" y1="222" x2="1196.3" y2="222" stroke="#000" stroke-width="1" />
<line x1="1184.3" y1="213" x2="1196.3" y2="213" stroke="#000" stroke-width="1" />
<line x1="1184.3" y1="205" x2="1196.3" y2="205" stroke="#000" stroke-width="1" />
<line x1="1184.3" y1="196" x2="1208.3" y2="196" stroke="#000" stroke-width="1" />
<text x="1180.8" y="200.3" font-size="16" text-anchor="end" >2.5</text>
<line x1="1184.3" y1="188" x2="1196.3" y2="188" stroke="#000" stroke-width="1" />
<line x1="1184.3" y1="179" x2="1196.3" y2="179" stroke="#000" stroke-width="1" />
<line x1="1184.3" y1="171" x2="1196.3" y2="171" stroke="#000" stroke-width="1" />
<line x1="1184.3" y1="163" x2="1196.3" y2="163" stroke="#000" stroke-width="1" />
<line x1="1184.3" y1="154" x2="1208.3" y2="154" stroke="#000" stroke-width="1" />
<text x="1180.8" y="158.2" font-size="16" text-anchor="end" >3</text>
<line x1="1184.3" y1="146" x2="1196.3" y2="146" stroke="#000" stroke-width="1" />
<line x1="1184.3" y1="137" x2="1196.3" y2="137" stroke="#000" stroke-width="1" />
<line x1="1184.3" y1="129" x2="1196.3" y2="129" stroke="#000" stroke-width="1" />
<line x1="1184.3" y1="121" x2="1196.3" y2="121" stroke="#000" stroke-width="1" />
<line x1="1184.3" y1="112" x2="1208.3" y2="112" stroke="#000" stroke-width="1" />
<text x="1180.8" y="116.1" font-size="16" text-anchor="end" >3.5</text>
<line x1="1184.3" y1="104" x2="1196.3" y2="104" stroke="#000" stroke-width="1" />
<line x1="1184.3" y1="95" x2="1196.3" y2="95" stroke="#000" stroke-width="1" />
<line x1="1184.3" y1="87" x2="1196.3" y2="87" stroke="#000" stroke-width="1" />
<line x1="1184.3" y1="78" x2="1196.3" y2="78" stroke="#000" stroke-width="1" />
<line x1="1184.3" y1="70" x2="1208.3" y2="70" stroke="#000" stroke-width="1" />
<text x="1180.8" y="74" font-size="16" text-anchor="end" >4</text>
<line x1="1184.3" y1="62" x2="1196.3" y2="62" stroke="#000" stroke-width="1" />
<line x1="1184.3" y1="53" x2="1196.3" y2="53" stroke="#000" stroke-width="1" />
<line x1="1184.3" y1="406.8" x2="1823" y2="406.8" stroke="#000" stroke-width="1.5" />
<line x1="1184" y1="406.8" x2="1184" y2="394.8" stroke="#000" stroke-width="1" />
<text x="1184.3" y="422.3" font-size="16" text-anchor="middle" >0</text>
<line x1="1196" y1="406.8" x2="1196" y2="400.8" stroke="#000" stroke-width="1" />
<line x1="1208" y1="406.8" x2="1208" y2="400.8" stroke="#000" stroke-width="1" />
<line x1="1219" y1="406.8" x2="1219" y2="400.8" stroke="#000" stroke-width="1" />
<line x1="1231" y1="406.8" x2="1231" y2="400.8" stroke="#000" stroke-width="1" />
<line x1="1243" y1="406.8" x2="1243" y2="394.8" stroke="#000" stroke-width="1" />
<text x="1242.96" y="422.3" font-size="16" text-anchor="middle" >10</text>
<line x1="1255" y1="406.8" x2="1255" y2="400.8" stroke="#000" stroke-width="1" />
<line x1="1266" y1="406.8" x2="1266" y2="400.8" stroke="#000" stroke-width="1" />
<line x1="1278" y1="406.8" x2="1278" y2="400.8" stroke="#000" stroke-width="1" />
<line x1="1290" y1="406.8" x2="1290" y2="400.8" stroke="#000" stroke-width="1" />
<line x1="1302" y1="406.8" x2="1302" y2="394.8" stroke="#000" stroke-width="1" />
<text x="1301.62" y="422.3" font-size="16" text-anchor="middle" >20</text>
<line x1="1313" y1="406.8" x2="1313" y2="400.8" stroke="#000" stroke-width="1" />
<line x1="1325" y1="406.8" x2="1325" y2="400.8" stroke="#000" stroke-width="1" />
<line x1="1337" y1="406.8" x2="1337" y2="400.8" stroke="#000" stroke-width="1" />
<line x1="1349" y1="406.8" x2="1349" y2="400.8" stroke="#000" stroke-width="1" />
<line x1="1360" y1="406.8" x2="1360" y2="394.8" stroke="#000" stroke-width="1" />
<text x="1360.28" y="422.3" font-size="16" text-anchor="middle" >30</text>
<line x1="1372" y1="406.8" x2="1372" y2="400.8" stroke="#000" stroke-width="1" />
<line x1="1384" y1="406.8" x2="1384" y2="400.8" stroke="#000" stroke-width="1" />
<line x1="1395" y1="406.8" x2="1395" y2="400.8" stroke="#000" stroke-width="1" />
<line x1="1407" y1="406.8" x2="1407" y2="400.8" stroke="#000" stroke-width="1" />
<line x1="1419" y1="406.8" x2="1419" y2="394.8" stroke="#000" stroke-width="1" />
<text x="1418.94" y="422.3" font-size="16" text-anchor="middle" >40</text>
<line x1="1431" y1="406.8" x2="1431" y2="400.8" stroke="#000" stroke-width="1" />
<line x1="1442" y1="406.8" x2="1442" y2="400.8" stroke="#000" stroke-width="1" />
<line x1="1454" y1="406.8" x2="1454" y2="400.8" stroke="#000" stroke-width="1" />
<line x1="1466" y1="406.8" x2="1466" y2="400.8" stroke="#000" stroke-width="1" />
<line x1="1478" y1="406.8" x2="1478" y2="394.8" stroke="#000" stroke-width="1" />
<text x="1477.6" y="422.3" font-size="16" text-anchor="middle" >50</text>
<line x1="1489" y1="406.8" x2="1489" y2="400.8" stroke="#000" stroke-width="1" />
<line x1="1501" y1="406.8" x2="1501" y2="400.8" stroke="#000" stroke-width="1" />
<line x1="1513" y1="406.8" x2="1513" y2="400.8" stroke="#000" stroke-width="1" />
<line x1="1525" y1="406.8" x2="1525" y2="400.8" stroke="#000" stroke-width="1" />
<line x1="1536" y1="406.8" x2="1536" y2="394.8" stroke="#000" stroke-width="1" />
<text x="1536.26" y="422.3" font-size="16" text-anchor="middle" >60</text>
<line x1="1548" y1="406.8" x2="1548" y2="400.8" stroke="#000" stroke-width="1" />
<line x1="1560" y1="406.8" x2="1560" y2="400.8" stroke="#000" stroke-width="1" />
<line x1="1571" y1="406.8" x2="1571" y2="400.8" stroke="#000" stroke-width="1" />
<line x1="1583" y1="406.8" x2="1583" y2="400.8" stroke="#000" stroke-width="1" />
<line x1="1595" y1="406.8" x2="1595" y2="394.8" stroke="#000" stroke-width="1" />
<text x="1594.92" y="422.3" font-size="16" text-anchor="middle" >70</text>
<line x1="1607" y1="406.8" x2="1607" y2="400.8" stroke="#000" stroke-width="1" />
<line x1="1618" y1="406.8" x2="1618" y2="400.8" stroke="#000" stroke-width="1" />
<line x1="1630" y1="406.8" x2="1630" y2="400.8" stroke="#000" stroke-width="1" />
<line x1="1642" y1="406.8" x2="1642" y2="400.8" stroke="#000" stroke-width="1" />
<line x1="1654" y1="406.8" x2="1654" y2="394.8" stroke="#000" stroke-width="1" />
<text x="1653.58" y="422.3" font-size="16" text-anchor="middle" >80</text>
<line x1="1665" y1="406.8" x2="1665" y2="400.8" stroke="#000" stroke-width="1" />
<line x1="1677" y1="406.8" x2="1677" y2="400.8" stroke="#000" stroke-width="1" />
<line x1="1689" y1="406.8" x2="1689" y2="400.8" stroke="#000" stroke-width="1" />
<line x1="1701" y1="406.8" x2="1701" y2="400.8" stroke="#000" stroke-width="1" />
<line x1="1712" y1="406.8" x2="1712" y2="394.8" stroke="#000" stroke-width="1" />
<text x="1712.24" y="422.3" font-size="16" text-anchor="middle" >90</text>
<line x1="1724" y1="406.8" x2="1724" y2="400.8" stroke="#000" stroke-width="1" />
<line x1="1736" y1="406.8" x2="1736" y2="400.8" stroke="#000" stroke-width="1" />
<line x1="1747" y1="406.8" x2="1747" y2="400.8" stroke="#000" stroke-width="1" />
<line x1="1759" y1="406.8" x2="1759" y2="400.8" stroke="#000" stroke-width="1" />
<line x1="1771" y1="406.8" x2="1771" y2="394.8" stroke="#000" stroke-width="1" />
<text x="1770.9" y="422.3" font-size="16" text-anchor="middle" >100</text>
<line x1="1783" y1="406.8" x2="1783" y2="400.8" stroke="#000" stroke-width="1" />
<line x1="1794" y1="406.8" x2="1794" y2="400.8" stroke="#000" stroke-width="1" />
<line x1="1806" y1="406.8" x2="1806" y2="400.8" stroke="#000" stroke-width="1" />
<line x1="1818" y1="406.8" x2="1818" y2="400.8" stroke="#000" stroke-width="1" />
<text x="1190" y="43.5" font-size="16">×10</text>
<text x="1217.8" y="37.5" font-size="11">9</text>
<text x="1823" y="437" font-size="16" text-anchor="end" >Count</text>
<text transform="translate(1146,51.5) rotate(-90)" font-size="16" text-anchor="end">Value [0..0xffffffff]</text>
<rect x="272" y="471" width="799" height="445" fill="#fff"/>
<rect x="1058" y="903" width="8" height="8" fill="steelblue" fill-opacity="0.2"/>
<text x="671.5" y="491" font-size="22" text-anchor="middle" >Crypto++_RNG_2024-02-17T01:12:00Z</text>
<rect x="351.5" y="515" width="639.5" height="355.70000000000005" fill="none" stroke="#000" stroke-width="1"/>
<path d="M351.5 870.7V515H384.8V870.7ZM390.1 870.7V515H409.1V870.7ZM410.8 870.7V515H417V870.7ZM420.9 870.7V515H433.9V870.7ZM435.1 870.7V515H457.8V870.7ZM467.9 870.7V515H474V870.7ZM474.9 870.7V515H481.7V870.7ZM493.2 870.7V515H498.8V870.7ZM501.1 870.7V515H516.7V870.7ZM520.3 870.7V515H527.7V870.7ZM534.3 870.7V515H541V870.7ZM564.2 870.7V515H576V870.7ZM581.2 870.7V515H586.7V870.7ZM589.2 870.7V515H598.9V870.7ZM605.1 870.7V515H618V870.7ZM622.1 870.7V515H628.1V870.7ZM633.1 870.7V515H641.9V870.7ZM643.2 870.7V515H649V870.7ZM653.1 870.7V515H672V870.7ZM677.1 870.7V515H683.8V870.7ZM696.2 870.7V515H707.7V870.7ZM719.2 870.7V515H724.9V870.7ZM738.2 870.7V515H744V870.7ZM752.3 870.7V515H757.7V870.7ZM765.1 870.7V515H782.8V870.7ZM793.1 870.7V515H799.3V870.7ZM801.9 870.7V515H809.9V870.7ZM812.9 870.7V515H826.7V870.7ZM836.1 870.7V515H841.8V870.7ZM850.3 870.7V515H856.8V870.7ZM859.1 870.7V515H874.9V870.7ZM875.8 870.7V515H880.7V870.7ZM882 870.7V515H900.7V870.7ZM905.2 870.7V515H921.8V870.7ZM924.1 870.7V515H933V870.7ZM938.3 870.7V515H943.6V870.7ZM951.9 870.7V515H957.8V870.7ZM974.9 870.7V515H985.6V870.7Z" fill="#000"/>
<line x1="351.5" y1="870.7" x2="991" y2="870.7" stroke="#000" stroke-width="1.5" />
<line x1="360" y1="870.7" x2="360" y2="864.7" stroke="#000" stroke-width="1" />
<line x1="375" y1="870.7" x2="375" y2="864.7" stroke="#000" stroke-width="1" />
<line x1="390" y1="870.7" x2="390" y2="864.7" stroke="#000" stroke-width="1" />
<line x1="405" y1="870.7" x2="405" y2="864.7" stroke="#000" stroke-width="1" />
<line x1="420" y1="870.7" x2="420" y2="858.7" stroke="#000" stroke-width="1" />
<text x="420" y="886.2" font-size="16" text-anchor="middle" >0.5</text>
<line x1="435" y1="870.7" x2="435" y2="864.7" stroke="#000" stroke-width="1" />
<line x1="450" y1="870.7" x2="450" y2="864.7" stroke="#000" stroke-width="1" />
<line x1="465" y1="870.7" x2="465" y2="864.7" stroke="#000" stroke-width="1" />
<line x1="480" y1="870.7" x2="480" y2="864.7" stroke="#000" stroke-width="1" />
<line x1="496" y1="870.7" x2="496" y2="858.7" stroke="#000" stroke-width="1" />
<text x="495.6" y="886.2" font-size="16" text-anchor="middle" >1</text>
<line x1="511" y1="870.7" x2="511" y2="864.7" stroke="#000" stroke-width="1" />
<line x1="526" y1="870.7" x2="526" y2="864.7" stroke="#000" stroke-width="1" />
<line x1="541" y1="870.7" x2="541" y2="864.7" stroke="#000" stroke-width="1" />
<line x1="556" y1="870.7" x2="556" y2="864.7" stroke="#000" stroke-width="1" />
<line x1="571" y1="870.7" x2="571" y2="858.7" stroke="#000" stroke-width="1" />
<text x="571.2" y="886.2" font-size="16" text-anchor="middle" >1.5</text>
<line x1="586" y1="870.7" x2="586" y2="864.7" stroke="#000" stroke-width="1" />
<line x1="601" y1="870.7" x2="601" y2="864.7" stroke="#000" stroke-width="1" />
<line x1="617" y1="870.7" x2="617" y2="864.7" stroke="#000" stroke-width="1" />
<line x1="632" y1="870.7" x2="632" y2="864.7" stroke="#000" stroke-width="1" />
<line x1="647" y1="870.7" x2="647" y2="858.7" stroke="#000" stroke-width="1" />
<text x="646.8" y="886.2" font-size="16" text-anchor="middle" >2</text>
<line x1="662" y1="870.7" x2="662" y2="864.7" stroke="#000" stroke-width="1" />
<line x1="677" y1="870.7" x2="677" y2="864.7" stroke="#000" stroke-width="1" />
<line x1="692" y1="870.7" x2="692" y2="864.7" stroke="#000" stroke-width="1" />
<line x1="707" y1="870.7" x2="707" y2="864.7" stroke="#000" stroke-width="1" />
<line x1="722" y1="870.7" x2="722" y2="858.7" stroke="#000" stroke-width="1" />
<text x="722.4" y="886.2" font-size="16" text-anchor="middle" >2.5</text>
<line x1="738" y1="870.7" x2="738" y2="864.7" stroke="#000" stroke-width="1" />
<line x1="753" y1="870.7" x2="753" y2="864.7" stroke="#000" stroke-width="1" />
<line x1="768" y1="870.7" x2="768" y2="864.7" stroke="#000" stroke-width="1" />
<line x1="783" y1="870.7" x2="783" y2="864.7" stroke="#000" stroke-width="1" />
<line x1="798" y1="870.7" x2="798" y2="858.7" stroke="#000" stroke-width="1" />
<text x="798" y="886.2" font-size="16" text-anchor="middle" >3</text>
<line x1="813" y1="870.7" x2="813" y2="864.7" stroke="#000" stroke-width="1" />
<line x1="828" y1="870.7" x2="828" y2="864.7" stroke="#000" stroke-width="1" />
<line x1="843" y1="870.7" x2="843" y2="864.7" stroke="#000" stroke-width="1" />
<line x1="858" y1="870.7" x2="858" y2="864.7" stroke="#000" stroke-width="1" />
<line x1="874" y1="870.7" x2="874" y2="858.7" stroke="#000" stroke-width="1" />
<text x="873.6" y="886.2" font-size="16" text-anchor="middle" >3.5</text>
<line x1="889" y1="870.7" x2="889" y2="864.7" stroke="#000" stroke-width="1" />
<line x1="904" y1="870.7" x2="904" y2="864.7" stroke="#000" stroke-width="1" />
<line x1="919" y1="870.7" x2="919" y2="864.7" stroke="#000" stroke-width="1" />
<line x1="934" y1="870.7" x2="934" y2="864.7" stroke="#000" stroke-width="1" />
<line x1="949" y1="870.7" x2="949" y2="858.7" stroke="#000" stroke-width="1" />
<text x="949.2" y="886.2" font-size="16" text-anchor="middle" >4</text>
<line x1="964" y1="870.7" x2="964" y2="864.7" stroke="#000" stroke-width="1" />
<line x1="979" y1="870.7" x2="979" y2="864.7" stroke="#000" stroke-width="1" />
<line x1="351.5" y1="515" x2="351.5" y2="870.7" stroke="#000" stroke-width="1.5" />
<text x="348.5" y="874.7" font-size="16" text-anchor="end" >0</text>
<text x="348.5" y="839.13" font-size="16" text-anchor="end" >0.1</text>
<text x="348.5" y="803.56" font-size="16" text-anchor="end" >0.2</text>
<text x="348.5" y="767.99" font-size="16" text-anchor="end" >0.3</text>
<text x="348.5" y="732.42" font-size="16" text-anchor="end" >0.4</text>
<text x="348.5" y="696.85" font-size="16" text-anchor="end" >0.5</text>
<text x="348.5" y="661.28" font-size="16" text-anchor="end" >0.6</text>
<text x="348.5" y="625.71" font-size="16" text-anchor="end" >0.7</text>
<text x="348.5" y="590.14" font-size="16" text-anchor="end" >0.8</text>
<text x="348.5" y="554.57" font-size="16" text-anchor="end" >0.9</text>
<text x="348.5" y="519" font-size="16" text-anchor="end" >1</text>
<text x="996" y="864" font-size="16">×10</text>
<text x="1023.8" y="858" font-size="11">9</text>
<text x="991" y="900.5" font-size="16" text-anchor="end" >Value [0..0xffffffff]</text>
<text transform="translate(314,515.5) rotate(-90)" font-size="16" text-anchor="end">Count</text>
<rect x="1104" y="471" width="799" height="445" fill="#fff"/>
<rect x="1890" y="903" width="8" height="8" fill="steelblue" fill-opacity="0.2"/>
<text x="1503.5" y="491" font-size="22" text-anchor="middle" >Crypto++_RNG_2024-02-17T01:12:00Z (8 primes)</text>
<circle cx="1360" cy="858.3" r="4.2" fill="#5a78d4"/>
<line x1="1317.4" y1="597.8" x2="1559.3" y2="605.3" stroke="#000" stroke-width="1" stroke="#111" stroke-width="0.85" stroke-dasharray="1.3,1.7"/>
<line x1="1317.4" y1="617.3" x2="1559.3" y2="621.5" stroke="#000" stroke-width="1" stroke="#111" stroke-width="0.85" stroke-dasharray="1.3,1.7"/>
<line x1="1317.4" y1="636" x2="1559.3" y2="636.7" stroke="#000" stroke-width="1" stroke="#111" stroke-width="0.85" stroke-dasharray="1.3,1.7"/>
<line x1="1317.4" y1="654" x2="1559.3" y2="651.4" stroke="#000" stroke-width="1" stroke="#111" stroke-width="0.85" stroke-dasharray="1.3,1.7"/>
<line x1="1317.4" y1="672.6" x2="1559.3" y2="666.4" stroke="#000" stroke-width="1" stroke="#111" stroke-width="0.85" stroke-dasharray="1.3,1.7"/>
<line x1="1317.4" y1="690.3" x2="1559.3" y2="680.9" stroke="#000" stroke-width="1" stroke="#111" stroke-width="0.85" stroke-dasharray="1.3,1.7"/>
<line x1="1317.4" y1="708.3" x2="1559.3" y2="695.3" stroke="#000" stroke-width="1" stroke="#111" stroke-width="0.85" stroke-dasharray="1.3,1.7"/>
<line x1="1317.4" y1="726.3" x2="1559.3" y2="710" stroke="#000" stroke-width="1" stroke="#111" stroke-width="0.85" stroke-dasharray="1.3,1.7"/>
<line x1="1559.3" y1="606.3" x2="1768.6" y2="580.3" stroke="#000" stroke-width="1" stroke="#111" stroke-width="0.85" stroke-dasharray="1.3,1.7"/>
<line x1="1559.3" y1="621.7" x2="1768.6" y2="607.4" stroke="#000" stroke-width="1" stroke="#111" stroke-width="0.85" stroke-dasharray="1.3,1.7"/>
<line x1="1559.3" y1="636.8" x2="1768.6" y2="633.7" stroke="#000" stroke-width="1" stroke="#111" stroke-width="0.85" stroke-dasharray="1.3,1.7"/>
<line x1="1559.3" y1="651.1" x2="1768.6" y2="659.7" stroke="#000" stroke-width="1" stroke="#111" stroke-width="0.85" stroke-dasharray="1.3,1.7"/>
<line x1="1559.3" y1="666" x2="1768.6" y2="685.5" stroke="#000" stroke-width="1" stroke="#111" stroke-width="0.85" stroke-dasharray="1.3,1.7"/>
<line x1="1559.3" y1="680.5" x2="1768.6" y2="710.4" stroke="#000" stroke-width="1" stroke="#111" stroke-width="0.85" stroke-dasharray="1.3,1.7"/>
<line x1="1559.3" y1="695.3" x2="1768.6" y2="736" stroke="#000" stroke-width="1" stroke="#111" stroke-width="0.85" stroke-dasharray="1.3,1.7"/>
<line x1="1559.3" y1="710.2" x2="1768.6" y2="761" stroke="#000" stroke-width="1" stroke="#111" stroke-width="0.85" stroke-dasharray="1.3,1.7"/>
<line x1="1349.4" y1="538.5" x2="1771.4" y2="574.3" stroke="#111" stroke-width="1.05" />
<line x1="1349.4" y1="538.5" x2="1315" y2="593.5" stroke="#111" stroke-width="1.05" />
<line x1="1315" y1="593.5" x2="1559.2" y2="602.9" stroke="#111" stroke-width="1.05" />
<line x1="1559.2" y1="602.9" x2="1771.4" y2="574.3" stroke="#111" stroke-width="1.05" />
<line x1="1315" y1="593.5" x2="1321" y2="744.4" stroke="#111" stroke-width="1.05" />
<line x1="1559.2" y1="602.9" x2="1558.1" y2="724" stroke="#111" stroke-width="1.05" />
<line x1="1771.4" y1="574.3" x2="1757.8" y2="785.4" stroke="#111" stroke-width="1.05" />
<line x1="1321" y1="744.4" x2="1558.1" y2="724" stroke="#111" stroke-width="1.05" />
<line x1="1558.1" y1="724" x2="1757.8" y2="785.4" stroke="#111" stroke-width="1.05" />
<line x1="1349.4" y1="538.5" x2="1359.9" y2="859.3" stroke="#111" stroke-width="1.05" />
<line x1="1321" y1="744.4" x2="1359.9" y2="859.3" stroke="#111" stroke-width="1.05" />
<line x1="1359.9" y1="859.3" x2="1757.8" y2="785.4" stroke="#111" stroke-width="1.05" />
<text x="1316" y="599.3" font-size="4" text-anchor="end" fill="#555">4.2950e+9</text>
<text x="1316" y="618.8" font-size="4" text-anchor="end" fill="#555">3.6816e+9</text>
<text x="1316" y="637.5" font-size="4" text-anchor="end" fill="#555">3.0681e+9</text>
<text x="1316" y="655.5" font-size="4" text-anchor="end" fill="#555">2.4546e+9</text>
<text x="1316" y="674.1" font-size="4" text-anchor="end" fill="#555">1.8411e+9</text>
<text x="1316" y="691.8" font-size="4" text-anchor="end" fill="#555">1.2273e+9</text>
<text x="1316" y="709.8" font-size="4" text-anchor="end" fill="#555">6.1362e+8</text>
<text x="1316" y="727.8" font-size="4" text-anchor="end" fill="#555">0</text>
<line x1="1360.94" y1="859.11" x2="1361.34" y2="863.61" stroke="#222" stroke-width="1" />
<line x1="1372.93" y1="856.88" x2="1373.33" y2="859.88" stroke="#222" stroke-width="1" />
<line x1="1384.68" y1="854.7" x2="1385.08" y2="857.7" stroke="#222" stroke-width="1" />
<line x1="1396.2" y1="852.56" x2="1396.6" y2="855.56" stroke="#222" stroke-width="1" />
<line x1="1407.5" y1="850.46" x2="1407.9" y2="853.46" stroke="#222" stroke-width="1" />
<line x1="1418.58" y1="848.4" x2="1418.98" y2="852.9" stroke="#222" stroke-width="1" />
<line x1="1429.45" y1="846.38" x2="1429.85" y2="849.38" stroke="#222" stroke-width="1" />
<line x1="1440.12" y1="844.4" x2="1440.52" y2="847.4" stroke="#222" stroke-width="1" />
<line x1="1450.58" y1="842.46" x2="1450.98" y2="845.46" stroke="#222" stroke-width="1" />
<line x1="1460.85" y1="840.55" x2="1461.25" y2="843.55" stroke="#222" stroke-width="1" />
<line x1="1470.94" y1="838.68" x2="1471.34" y2="843.18" stroke="#222" stroke-width="1" />
<line x1="1480.84" y1="836.84" x2="1481.24" y2="839.84" stroke="#222" stroke-width="1" />
<line x1="1490.56" y1="835.03" x2="1490.96" y2="838.03" stroke="#222" stroke-width="1" />
<line x1="1500.11" y1="833.26" x2="1500.51" y2="836.26" stroke="#222" stroke-width="1" />
<line x1="1509.49" y1="831.52" x2="1509.89" y2="834.52" stroke="#222" stroke-width="1" />
<line x1="1518.71" y1="829.81" x2="1519.11" y2="834.31" stroke="#222" stroke-width="1" />
<line x1="1527.76" y1="828.12" x2="1528.16" y2="831.12" stroke="#222" stroke-width="1" />
<line x1="1536.66" y1="826.47" x2="1537.06" y2="829.47" stroke="#222" stroke-width="1" />
<line x1="1545.41" y1="824.85" x2="1545.81" y2="827.85" stroke="#222" stroke-width="1" />
<line x1="1554.01" y1="823.25" x2="1554.41" y2="826.25" stroke="#222" stroke-width="1" />
<line x1="1562.46" y1="821.68" x2="1562.86" y2="826.18" stroke="#222" stroke-width="1" />
<line x1="1570.78" y1="820.14" x2="1571.18" y2="823.14" stroke="#222" stroke-width="1" />
<line x1="1578.95" y1="818.62" x2="1579.35" y2="821.62" stroke="#222" stroke-width="1" />
<line x1="1586.99" y1="817.12" x2="1587.39" y2="820.12" stroke="#222" stroke-width="1" />
<line x1="1594.91" y1="815.65" x2="1595.31" y2="818.65" stroke="#222" stroke-width="1" />
<line x1="1602.69" y1="814.21" x2="1603.09" y2="818.71" stroke="#222" stroke-width="1" />
<line x1="1610.35" y1="812.78" x2="1610.75" y2="815.78" stroke="#222" stroke-width="1" />
<line x1="1617.89" y1="811.38" x2="1618.29" y2="814.38" stroke="#222" stroke-width="1" />
<line x1="1625.31" y1="810.01" x2="1625.71" y2="813.01" stroke="#222" stroke-width="1" />
<line x1="1632.61" y1="808.65" x2="1633.01" y2="811.65" stroke="#222" stroke-width="1" />
<line x1="1639.8" y1="807.31" x2="1640.2" y2="811.81" stroke="#222" stroke-width="1" />
<line x1="1646.88" y1="806" x2="1647.28" y2="809" stroke="#222" stroke-width="1" />
<line x1="1653.86" y1="804.7" x2="1654.26" y2="807.7" stroke="#222" stroke-width="1" />
<line x1="1660.72" y1="803.43" x2="1661.12" y2="806.43" stroke="#222" stroke-width="1" />
<line x1="1667.49" y1="802.17" x2="1667.89" y2="805.17" stroke="#222" stroke-width="1" />
<line x1="1674.15" y1="800.94" x2="1674.55" y2="805.44" stroke="#222" stroke-width="1" />
<line x1="1680.71" y1="799.72" x2="1681.11" y2="802.72" stroke="#222" stroke-width="1" />
<line x1="1687.18" y1="798.52" x2="1687.58" y2="801.52" stroke="#222" stroke-width="1" />
<line x1="1693.55" y1="797.33" x2="1693.95" y2="800.33" stroke="#222" stroke-width="1" />
<line x1="1699.83" y1="796.17" x2="1700.23" y2="799.17" stroke="#222" stroke-width="1" />
<line x1="1706.02" y1="795.02" x2="1706.42" y2="799.52" stroke="#222" stroke-width="1" />
<line x1="1712.13" y1="793.88" x2="1712.53" y2="796.88" stroke="#222" stroke-width="1" />
<line x1="1718.14" y1="792.77" x2="1718.54" y2="795.77" stroke="#222" stroke-width="1" />
<line x1="1724.07" y1="791.66" x2="1724.47" y2="794.66" stroke="#222" stroke-width="1" />
<line x1="1729.92" y1="790.58" x2="1730.32" y2="793.58" stroke="#222" stroke-width="1" />
<line x1="1735.69" y1="789.51" x2="1736.09" y2="794.01" stroke="#222" stroke-width="1" />
<line x1="1741.37" y1="788.45" x2="1741.77" y2="791.45" stroke="#222" stroke-width="1" />
<line x1="1746.98" y1="787.41" x2="1747.38" y2="790.41" stroke="#222" stroke-width="1" />
<line x1="1752.52" y1="786.38" x2="1752.92" y2="789.38" stroke="#222" stroke-width="1" />
<text x="1362.5" y="873" font-size="8" text-anchor="middle" fill="#333" transform="rotate(-10 1362.5 873)">0</text>
<text x="1421.5" y="861" font-size="7.5" text-anchor="middle" fill="#333" transform="rotate(-10 1421.5 861)">10</text>
<text x="1473.6" y="852" font-size="7" text-anchor="middle" fill="#333" transform="rotate(-10 1473.6 852)">20</text>
<text x="1521.4" y="842.5" font-size="6.5" text-anchor="middle" fill="#333" transform="rotate(-10 1521.4 842.5)">30</text>
<text x="1565.6" y="834" font-size="6" text-anchor="middle" fill="#333" transform="rotate(-10 1565.6 834)">40</text>
<text x="1606.3" y="826" font-size="6" text-anchor="middle" fill="#333" transform="rotate(-10 1606.3 826)">50</text>
<text x="1643.3" y="819" font-size="5.5" text-anchor="middle" fill="#333" transform="rotate(-10 1643.3 819)">60</text>
<text x="1677.2" y="812" font-size="5.5" text-anchor="middle" fill="#333" transform="rotate(-10 1677.2 812)">70</text>
<text x="1708.9" y="806" font-size="5" text-anchor="middle" fill="#333" transform="rotate(-10 1708.9 806)">80</text>
<text x="1738.6" y="800" font-size="5" text-anchor="middle" fill="#333" transform="rotate(-10 1738.6 800)">1</text>
<line x1="1321" y1="744.4" x2="1323.6" y2="743.5" stroke="#222" stroke-width="0.9" />
<line x1="1322.5" y1="748.82" x2="1325.1" y2="747.92" stroke="#222" stroke-width="0.9" />
<line x1="1323.99" y1="753.24" x2="1326.59" y2="752.34" stroke="#222" stroke-width="0.9" />
<line x1="1325.49" y1="757.66" x2="1328.09" y2="756.76" stroke="#222" stroke-width="0.9" />
<line x1="1326.98" y1="762.08" x2="1329.58" y2="761.18" stroke="#222" stroke-width="0.9" />
<line x1="1328.48" y1="766.5" x2="1331.08" y2="765.6" stroke="#222" stroke-width="0.9" />
<line x1="1329.98" y1="770.92" x2="1332.58" y2="770.02" stroke="#222" stroke-width="0.9" />
<line x1="1331.47" y1="775.33" x2="1334.07" y2="774.43" stroke="#222" stroke-width="0.9" />
<line x1="1332.97" y1="779.75" x2="1335.57" y2="778.85" stroke="#222" stroke-width="0.9" />
<line x1="1334.47" y1="784.17" x2="1337.07" y2="783.27" stroke="#222" stroke-width="0.9" />
<line x1="1335.96" y1="788.59" x2="1338.56" y2="787.69" stroke="#222" stroke-width="0.9" />
<line x1="1337.46" y1="793.01" x2="1340.06" y2="792.11" stroke="#222" stroke-width="0.9" />
<line x1="1338.95" y1="797.43" x2="1341.55" y2="796.53" stroke="#222" stroke-width="0.9" />
<line x1="1340.45" y1="801.85" x2="1343.05" y2="800.95" stroke="#222" stroke-width="0.9" />
<line x1="1341.95" y1="806.27" x2="1344.55" y2="805.37" stroke="#222" stroke-width="0.9" />
<line x1="1343.44" y1="810.69" x2="1346.04" y2="809.79" stroke="#222" stroke-width="0.9" />
<line x1="1344.94" y1="815.11" x2="1347.54" y2="814.21" stroke="#222" stroke-width="0.9" />
<line x1="1346.43" y1="819.53" x2="1349.03" y2="818.63" stroke="#222" stroke-width="0.9" />
<line x1="1347.93" y1="823.95" x2="1350.53" y2="823.05" stroke="#222" stroke-width="0.9" />
<line x1="1349.43" y1="828.37" x2="1352.03" y2="827.47" stroke="#222" stroke-width="0.9" />
<line x1="1350.92" y1="832.78" x2="1353.52" y2="831.88" stroke="#222" stroke-width="0.9" />
<line x1="1352.42" y1="837.2" x2="1355.02" y2="836.3" stroke="#222" stroke-width="0.9" />
<line x1="1353.92" y1="841.62" x2="1356.52" y2="840.72" stroke="#222" stroke-width="0.9" />
<line x1="1355.41" y1="846.04" x2="1358.01" y2="845.14" stroke="#222" stroke-width="0.9" />
<line x1="1356.91" y1="850.46" x2="1359.51" y2="849.56" stroke="#222" stroke-width="0.9" />
<line x1="1358.4" y1="854.88" x2="1361" y2="853.98" stroke="#222" stroke-width="0.9" />
<rect x="1380.7" y="596.3" width="4.6" height="4.6" rx="1.6" fill="#f4f020" stroke="#c8b060" stroke-width="0.4"/>
<rect x="1363.2" y="610.7" width="4.6" height="4.6" rx="1.6" fill="#f2d860" stroke="#c8b060" stroke-width="0.4"/>
<rect x="1425.3" y="605.3" width="4.6" height="4.6" rx="1.6" fill="#f4e040" stroke="#c8b060" stroke-width="0.4"/>
<rect x="1456.7" y="618" width="4.6" height="4.6" rx="1.6" fill="#f2d868" stroke="#c8b060" stroke-width="0.4"/>
<rect x="1459.2" y="648.1" width="4.6" height="4.6" rx="1.6" fill="#b8d0a8" stroke="#c8b060" stroke-width="0.4"/>
<circle cx="1655.4" cy="695.3" r="2.2" fill="#30b8d8"/>
<circle cx="1376.4" cy="795.1" r="4" fill="#3fa0e0"/>
<circle cx="1369.4" cy="842.3" r="4.2" fill="#5575cc"/>
<text x="1317" y="761" font-size="4.5" fill="#666" text-anchor="middle" transform="rotate(71 1317 761)">4.0e+9</text>
<text x="1321.5" y="779" font-size="4.5" fill="#666" text-anchor="middle" transform="rotate(71 1321.5 779)">3.5e+9</text>
<text x="1325.5" y="793" font-size="4.5" fill="#666" text-anchor="middle" transform="rotate(71 1325.5 793)">3e+9</text>
<text x="1331" y="807" font-size="4.5" fill="#666" text-anchor="middle" transform="rotate(71 1331 807)">2.5e+9</text>
<text x="1336.5" y="828" font-size="4.5" fill="#666" text-anchor="middle" transform="rotate(71 1336.5 828)">1.5e+9</text>
<text x="1343" y="846" font-size="4.5" fill="#666" text-anchor="middle" transform="rotate(71 1343 846)">0.5e+9</text>
<line x1="1347" y1="868" x2="1352" y2="864" stroke="#444" stroke-width="0.8" />
</svg>
</body></html>
